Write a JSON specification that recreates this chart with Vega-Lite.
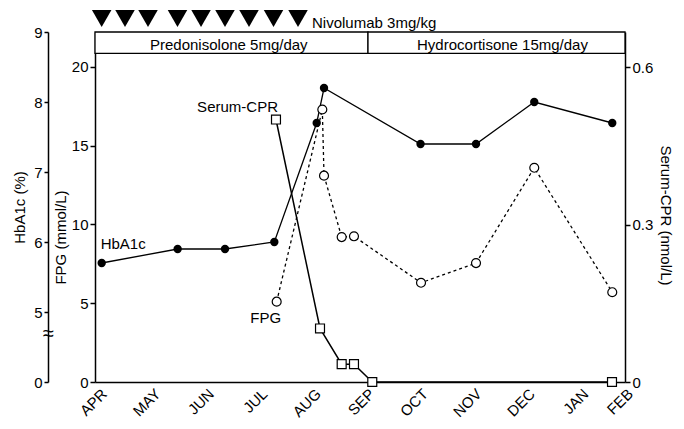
{
  "$schema": "https://vega.github.io/schema/vega-lite/v6.json",
  "width": 530,
  "height": 350,
  "autosize": {"type": "none"},
  "padding": {"left": 95, "top": 32, "right": 59, "bottom": 47},
  "background": "white",
  "config": {
    "font": "Liberation Sans",
    "view": {"stroke": null},
    "axis": {
      "grid": false,
      "domainColor": "#000",
      "domainWidth": 1.5,
      "tickColor": "#000",
      "tickWidth": 1.5,
      "labelColor": "#000",
      "titleColor": "#000",
      "labelFont": "Liberation Sans",
      "titleFont": "Liberation Sans",
      "labelFontSize": 15,
      "titleFontSize": 15,
      "titleFontWeight": "normal"
    }
  },
  "datasets": {
    "hba": [
      {"t": 0.05, "v": 5.7, "label": "HbA1c"},
      {"t": 1.47, "v": 5.9},
      {"t": 2.355, "v": 5.9},
      {"t": 3.277, "v": 6.0},
      {"t": 4.069, "v": 7.7},
      {"t": 4.206, "v": 8.2},
      {"t": 6.01, "v": 7.4},
      {"t": 7.047, "v": 7.4},
      {"t": 8.136, "v": 8.0},
      {"t": 9.594, "v": 7.7}
    ],
    "fpg": [
      {"t": 3.321, "v": 5.1, "label": "FPG"},
      {"t": 4.174, "v": 17.3},
      {"t": 4.206, "v": 13.1},
      {"t": 4.536, "v": 9.2},
      {"t": 4.766, "v": 9.25},
      {"t": 6.019, "v": 6.3},
      {"t": 7.047, "v": 7.55},
      {"t": 8.136, "v": 13.6},
      {"t": 9.594, "v": 5.7}
    ],
    "cpr": [
      {"t": 3.308, "v": 0.5, "label": "Serum-CPR"},
      {"t": 4.131, "v": 0.102},
      {"t": 4.536, "v": 0.034},
      {"t": 4.766, "v": 0.034},
      {"t": 5.108, "v": 0},
      {"t": 9.589, "v": 0}
    ],
    "doses": [
      {"t": 0.05}, {"t": 0.486}, {"t": 0.916}, {"t": 1.467}, {"t": 1.907},
      {"t": 2.355}, {"t": 2.804}, {"t": 3.262}, {"t": 3.72, "label": "Nivolumab 3mg/kg"}
    ],
    "periods": [
      {"t": -0.075, "t2": 5.028},
      {"t": 5.028, "t2": 9.832}
    ],
    "period_labels": [
      {"t": 2.426, "label": "Predonisolone 5mg/day"},
      {"t": 7.542, "label": "Hydrocortisone 15mg/day"}
    ]
  },
  "encoding": {
    "x": {
      "field": "t",
      "type": "quantitative",
      "scale": {"domain": [-0.075, 9.832], "nice": false, "zero": false},
      "axis": {
        "title": null,
        "values": [0, 1, 2, 3, 4, 5, 6, 7, 8, 9, 9.832],
        "labelExpr": "['APR','MAY','JUN','JUL','AUG','SEP','OCT','NOV','DEC','JAN','FEB'][round(datum.value)]",
        "labelAngle": -45,
        "ticks": false,
        "tickSize": 0,
        "labelPadding": 4
      }
    }
  },
  "layer": [
    {
      "layer": [
        {
          "data": {"name": "periods"},
          "mark": {"type": "rect", "fill": "white", "stroke": "black", "strokeWidth": 1.3},
          "encoding": {
            "x2": {"field": "t2"},
            "y": {"datum": 9, "type": "quantitative", "scale": {"domain": [4, 9], "nice": false, "zero": false}},
            "y2": {"datum": 8.696}
          }
        },
        {
          "data": {"name": "period_labels"},
          "mark": {"type": "text", "fontSize": 15, "baseline": "alphabetic", "align": "center", "color": "black"},
          "encoding": {
            "y": {"datum": 8.743, "type": "quantitative", "scale": {"domain": [4, 9], "nice": false, "zero": false}},
            "text": {"field": "label"}
          }
        },
        {
          "data": {"name": "doses"},
          "mark": {"type": "point", "shape": "triangle-down", "filled": true, "color": "black", "size": 380, "opacity": 1},
          "encoding": {
            "y": {"datum": 9.193, "type": "quantitative", "scale": {"domain": [4, 9], "nice": false, "zero": false}}
          }
        },
        {
          "data": {"name": "doses"},
          "transform": [{"filter": "datum.label"}],
          "mark": {"type": "text", "fontSize": 15, "baseline": "alphabetic", "align": "left", "dx": 14, "color": "black"},
          "encoding": {
            "y": {"datum": 9.064, "type": "quantitative", "scale": {"domain": [4, 9], "nice": false, "zero": false}},
            "text": {"field": "label"}
          }
        },
        {
          "data": {"name": "hba"},
          "mark": {"type": "line", "color": "black", "strokeWidth": 1.3},
          "encoding": {
            "y": {
              "field": "v", "type": "quantitative",
              "scale": {"domain": [4, 9], "nice": false, "zero": false},
              "axis": {
                "orient": "left",
                "offset": 47,
                "title": "HbA1c (%)",
                "titlePadding": 6,
                "values": [4, 4.7, 5, 6, 7, 8, 9],
                "labelExpr": "datum.value == 4 ? '0' : (datum.value == 4.7 ? '≈' : format(datum.value, 'd'))",
                "tickSize": 4,
                "labelPadding": {"condition": {"test": "datum.value == 4.7", "value": -4}, "value": 2},
                "labelAlign": {"condition": {"test": "datum.value == 4.7", "value": "center"}, "value": "right"},
                "labelFontSize": {"condition": {"test": "datum.value == 4.7", "value": 20}, "value": 15},
                "tickOpacity": {"condition": {"test": "datum.value == 4.7", "value": 0}, "value": 1}
              }
            }
          }
        },
        {
          "data": {"name": "hba"},
          "mark": {"type": "point", "filled": true, "color": "black", "size": 70, "opacity": 1},
          "encoding": {
            "y": {"field": "v", "type": "quantitative", "scale": {"domain": [4, 9], "nice": false, "zero": false}}
          }
        },
        {
          "data": {"name": "hba"},
          "transform": [{"filter": "datum.label"}],
          "mark": {"type": "text", "fontSize": 15, "align": "left", "baseline": "middle", "dx": -1, "dy": -19, "color": "black"},
          "encoding": {
            "y": {"field": "v", "type": "quantitative", "scale": {"domain": [4, 9], "nice": false, "zero": false}},
            "text": {"field": "label"}
          }
        }
      ]
    },
    {
      "data": {"name": "fpg"},
      "encoding": {
        "y": {
          "field": "v", "type": "quantitative",
          "scale": {"domain": [0, 22.22], "nice": false, "zero": false},
          "axis": {
            "orient": "left",
            "title": "FPG (mmol/L)",
            "titlePadding": 3,
            "titleY": 205,
            "values": [0, 5, 10, 15, 20],
            "tickSize": 5,
            "labelPadding": 2
          }
        }
      },
      "layer": [
        {
          "mark": {"type": "line", "color": "black", "strokeWidth": 1.3, "strokeDash": [3, 3]}
        },
        {
          "mark": {"type": "point", "filled": true, "fill": "white", "stroke": "black", "strokeWidth": 1.2, "size": 80, "opacity": 1}
        },
        {
          "transform": [{"filter": "datum.label"}],
          "mark": {"type": "text", "fontSize": 15, "align": "center", "baseline": "middle", "dx": -11, "dy": 16, "color": "black"},
          "encoding": {
            "text": {"field": "label"}
          }
        }
      ]
    },
    {
      "data": {"name": "cpr"},
      "encoding": {
        "y": {
          "field": "v", "type": "quantitative",
          "scale": {"domain": [0, 0.6667], "nice": false, "zero": false},
          "axis": {
            "orient": "right",
            "title": "Serum-CPR (nmol/L)",
            "titlePadding": 5,
            "titleY": 183,
            "values": [0, 0.3, 0.6],
            "labelExpr": "datum.value == 0 ? '0' : format(datum.value, '.1f')",
            "tickSize": 5,
            "labelPadding": 2
          }
        }
      },
      "layer": [
        {
          "mark": {"type": "line", "color": "black", "strokeWidth": 1.5}
        },
        {
          "mark": {"type": "point", "shape": "square", "filled": true, "fill": "white", "stroke": "black", "strokeWidth": 1.2, "size": 80, "opacity": 1}
        },
        {
          "transform": [{"filter": "datum.label"}],
          "mark": {"type": "text", "fontSize": 15, "align": "right", "baseline": "middle", "dx": 2, "dy": -13, "color": "black"},
          "encoding": {
            "text": {"field": "label"}
          }
        }
      ]
    }
  ],
  "resolve": {"scale": {"y": "independent"}, "axis": {"y": "independent"}}
}
